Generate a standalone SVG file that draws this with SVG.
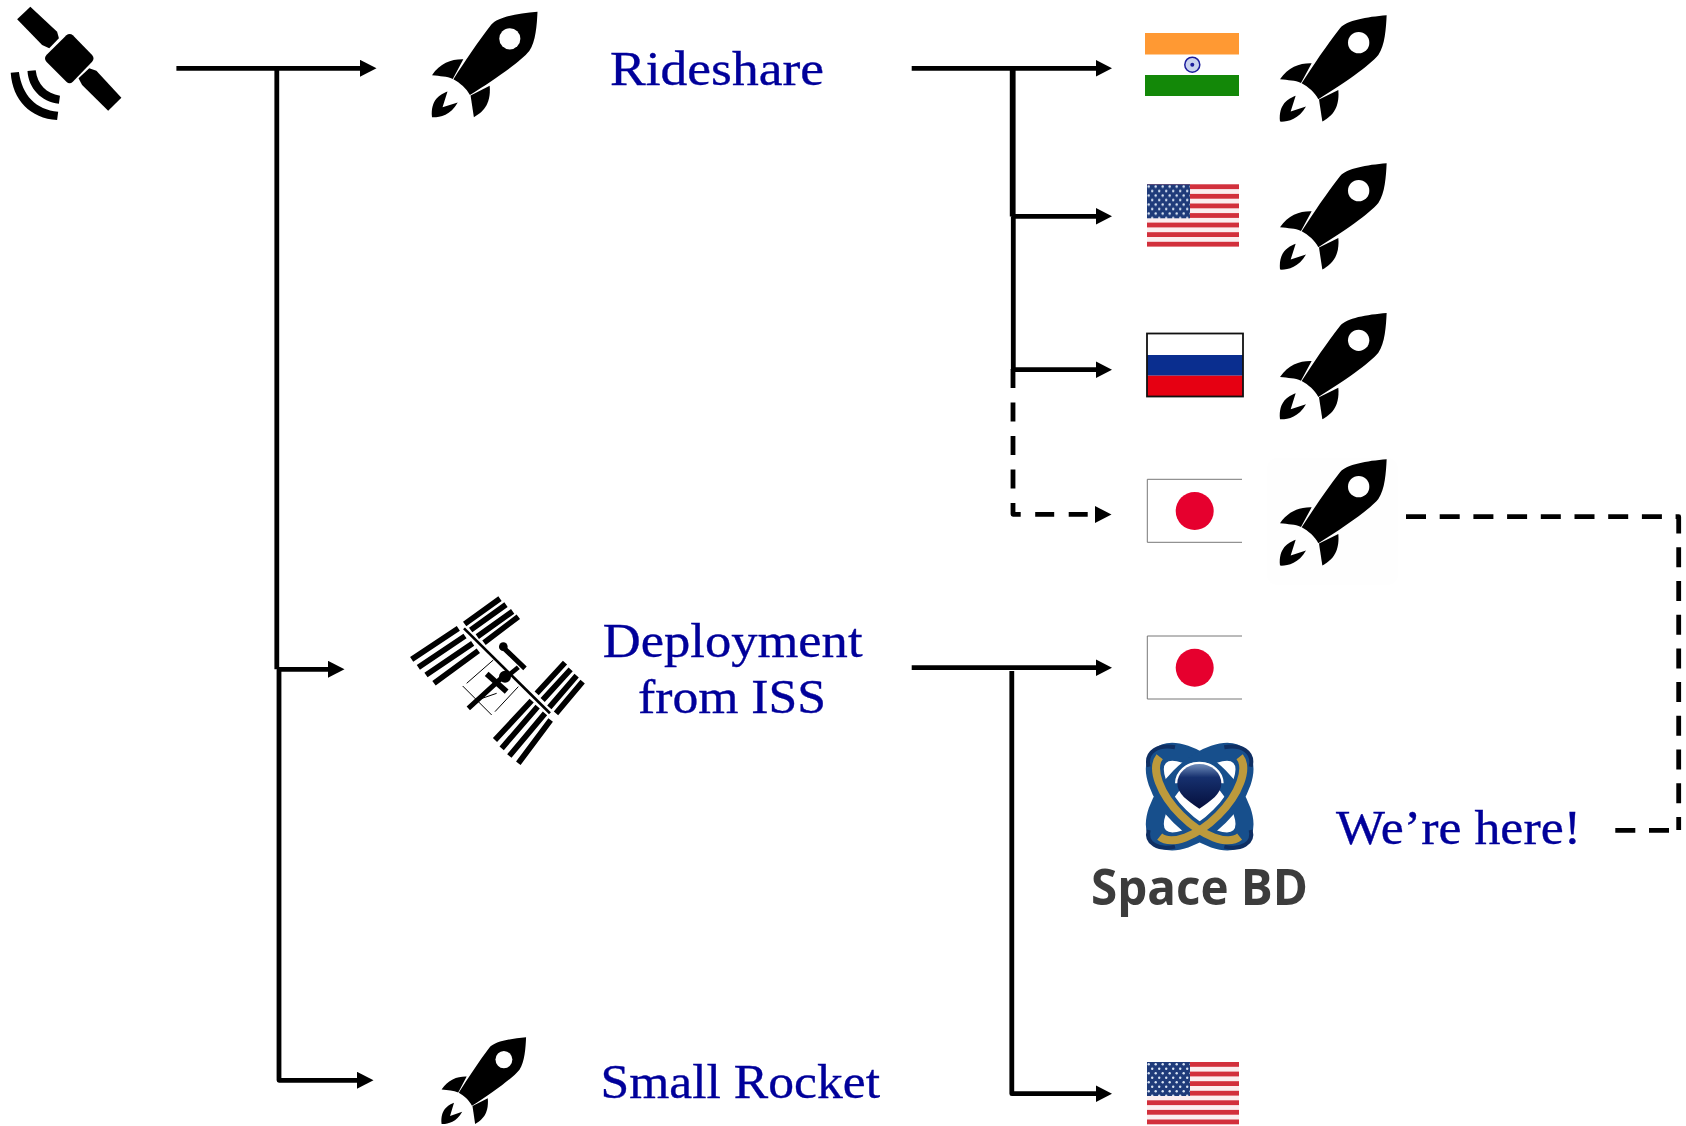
<svg xmlns="http://www.w3.org/2000/svg" xmlns:xlink="http://www.w3.org/1999/xlink" width="1686" height="1126" viewBox="0 0 1686 1126">
<style>
.lbl{font-family:"Liberation Serif","Times New Roman",serif;font-size:49px;fill:#00009a;stroke:#00009a;stroke-width:.35}
.ln{fill:none;stroke:#000;stroke-width:4.8;stroke-linejoin:round}
.dash{stroke-dasharray:19 14.5}
.dash2{stroke-dasharray:20 13.7}
.bar{stroke:#000;stroke-width:17;fill:none}
.thin{stroke:#000;stroke-width:3;fill:none}
.mod{stroke:#000;stroke-width:15;fill:none}
</style>
<defs>
<marker id="ah" markerUnits="userSpaceOnUse" markerWidth="17" markerHeight="17" refX="1" refY="8.5" orient="auto"><path d="M0 0L16.5 8.5L0 17Z" fill="#000"/></marker>
<g id="rocket">
<path d="M320 0C318 40 315 90 295 119C270 150 190 205 115 252C105 232 85 215 65 204C100 150 140 90 180 39C200 15 260 5 320 0Z"/>
<path d="M0 192C25 155 60 143 95 144L63 203C45 195 25 195 0 192Z"/>
<path d="M117 253L175 224C180 285 150 305 127 319Z"/>
<path d="M0 319C-5 265 25 250 47 241L32 289L78 274C55 315 20 320 0 319Z"/>
<circle cx="236" cy="82" r="32" fill="#fff"/>
</g>
<pattern id="stars" width="7" height="9" patternUnits="userSpaceOnUse"><rect width="7" height="9" fill="#1f3b7a"/><circle cx="1.7" cy="2.2" r="1.2" fill="#d8e4f4"/><circle cx="5.2" cy="6.7" r="1.2" fill="#d8e4f4"/></pattern>
<g id="us">
<rect width="92" height="62.3" fill="#fbeef0"/>
<g fill="#d2303c"><rect y="0" width="92" height="4.8"/><rect y="9.6" width="92" height="4.8"/><rect y="19.2" width="92" height="4.8"/><rect y="28.8" width="92" height="4.8"/><rect y="38.3" width="92" height="4.8"/><rect y="47.9" width="92" height="4.8"/><rect y="57.5" width="92" height="4.8"/></g>
<rect width="43" height="34" fill="url(#stars)"/>
</g>
<g id="jp">
<rect width="94.7" height="63" fill="#fff"/>
<path d="M94.7 0H0V63H94.7" fill="none" stroke="#777" stroke-width="1"/>
<circle cx="47.4" cy="31.7" r="19" fill="#e6002e"/>
</g>
<linearGradient id="sph" x1="0" y1="0" x2="0" y2="1"><stop offset="0" stop-color="#6f8dbb"/><stop offset=".3" stop-color="#16306e"/><stop offset="1" stop-color="#050f3c"/></linearGradient>
</defs>
<rect width="1686" height="1126" fill="#fff"/>

<g id="connectors">
<path class="ln" d="M176.4 68.3H361" marker-end="url(#ah)"/>
<path class="ln" d="M276.8 68.3V669.3"/>
<path class="ln" d="M277 669.3H329" marker-end="url(#ah)"/>
<path class="ln" d="M279 669.3V1080.3H358" marker-end="url(#ah)"/>
<path class="ln" d="M911.7 68.3H1096.5" marker-end="url(#ah)"/>
<path class="ln" style="stroke-width:5.8" d="M1012.7 68.3V216.5"/>
<path class="ln" d="M1012 216.3H1096.5" marker-end="url(#ah)"/>
<path class="ln" d="M1013.3 216.3V369.7"/>
<path class="ln" d="M1013 369.7H1096.5" marker-end="url(#ah)"/>
<path class="ln dash" d="M1013 369V514.3H1092"/>
<path d="M1095 506L1111.5 514.6L1095 523Z" fill="#000"/>
<path class="ln" d="M911.7 667.7H1096.5" marker-end="url(#ah)"/>
<path class="ln" d="M1011.8 671V1093.7H1096.5" marker-end="url(#ah)"/>
<path class="ln dash2" d="M1406 516.7H1678.7V830"/>
<path class="ln dash2" d="M1669 830.3H1615"/>
</g>

<g id="satellite" transform="scale(.357 .3333)">
<path d="M85 20L160 95L165 115L138 145L118 135L48 58Z"/>
<path d="M195 102Q200 102 204 106L258 165Q266 175 258 185L204 245Q195 254 186 245L130 185Q122 175 130 165L186 106Q190 102 195 102Z"/>
<path d="M250 205L270 212L340 293L303 332L230 255L220 235Z"/>
<path d="M30 218L53 216C62 285 100 330 163 335L160 360C85 355 35 300 30 218Z"/>
<path d="M77 213L100 211C105 255 130 280 168 287L165 311C115 305 80 265 77 213Z"/>
</g>
<g id="rocket-main"><use xlink:href="#rocket" href="#rocket" transform="translate(432 11.7) scale(.3297 .331)"/></g>
<text id="t-rideshare" class="lbl" x="610" y="85" textLength="214" lengthAdjust="spacingAndGlyphs">Rideshare</text>

<g id="flag-india">
<rect x="1145" y="33" width="94" height="63" fill="#fff"/>
<rect x="1145" y="33" width="94" height="21.5" fill="#ff9933"/>
<rect x="1145" y="75" width="94" height="21" fill="#138808"/>
<circle cx="1192.3" cy="64.7" r="7.5" fill="#c9d2ee" stroke="#1c1c9c" stroke-width="1.5"/>
<circle cx="1192.3" cy="64.7" r="2" fill="#1c1c9c"/>
</g>
<g id="rocket-india"><use xlink:href="#rocket" href="#rocket" transform="translate(1280 15.3) scale(.3333)"/></g>
<g id="flag-us-1"><use xlink:href="#us" href="#us" transform="translate(1147 184.3)"/></g>
<g id="rocket-us"><use xlink:href="#rocket" href="#rocket" transform="translate(1280 163.3) scale(.3333)"/></g>
<g id="flag-russia">
<rect x="1147" y="333.5" width="96" height="63" fill="#fff"/>
<rect x="1147" y="355" width="96" height="20.7" fill="#0a2e8f"/>
<rect x="1147" y="375.7" width="96" height="21" fill="#e60012"/>
<rect x="1147" y="333.5" width="96" height="63" fill="none" stroke="#111" stroke-width="1.8"/>
</g>
<g id="rocket-russia"><use xlink:href="#rocket" href="#rocket" transform="translate(1280 313) scale(.3333)"/></g>
<g id="flag-japan-1"><use xlink:href="#jp" href="#jp" transform="translate(1147.3 479.3)"/></g>
<g id="rocket-japan">
<rect x="1267" y="458" width="131" height="127" rx="10" fill="#fefefe"/>
<use xlink:href="#rocket" href="#rocket" transform="translate(1280 459.3) scale(.3333)"/>
</g>

<g id="iss" transform="translate(390 580) scale(.3333)">
<path class="bar" d="M224 132L330 56M242 150L348 74M262 170L368 94M282 188L385 110"/>
<path class="bar" d="M65 238L205 145M85 262L225 168M108 285L248 190M132 310L265 212"/>
<path class="bar" d="M440 340L525 248M458 360L542 268M478 382L560 287M498 400L578 305"/>
<path class="bar" d="M315 480L425 362M335 505L443 380M358 528L465 400M385 550L482 420"/>
<path d="M222 145L480 400" stroke="#000" stroke-width="8" fill="none"/>
<path class="mod" d="M333 196L405 265M235 385L350 280"/>
<path d="M290 282L350 335" stroke="#000" stroke-width="17" fill="none"/>
<path d="M385 262L345 295" stroke="#000" stroke-width="14" fill="none"/>
<path class="thin" d="M230 310L310 240M218 318L305 405M315 395L385 320M262 360L320 340"/>
<circle cx="345" cy="290" r="18"/>
<circle cx="340" cy="200" r="13"/>
</g>
<g id="t-iss">
<text class="lbl" x="602.8" y="656.5" textLength="259.7" lengthAdjust="spacingAndGlyphs">Deployment</text>
<text class="lbl" x="638" y="712.5" textLength="188" lengthAdjust="spacingAndGlyphs">from ISS</text>
</g>
<g id="flag-japan-2"><use xlink:href="#jp" href="#jp" transform="translate(1147.3 636)"/></g>

<g id="spacebd">
<g transform="translate(1070 730) scale(.3333)">
<g fill="none" stroke="#174f8c" stroke-width="54">
<ellipse cx="389" cy="200" rx="170" ry="84" transform="rotate(45 389 200)"/>
<ellipse cx="389" cy="200" rx="170" ry="84" transform="rotate(-45 389 200)"/>
</g>
<g fill="none" stroke="#0f2f63" stroke-width="12">
<path d="M236 110C225 65 265 42 315 52"/><path d="M542 110C553 65 513 42 463 52"/>
<path d="M236 300C225 340 265 362 315 350"/><path d="M542 300C553 340 513 362 463 350"/>
</g>
<g fill="none" stroke="#bd9a3c" stroke-width="24">
<path d="M269 80A170 84 45 0 0 509 320"/>
<path d="M509 80A170 84 -45 0 1 269 320"/>
</g>
<path d="M322 160A66 58 0 0 1 454 160" fill="none" stroke="#fff" stroke-width="14"/>
<path d="M388 236C352 212 322 192 322 160A66 58 0 0 1 454 160C454 192 424 212 388 236Z" fill="url(#sph)"/>
</g>
<text x="1091" y="905" textLength="217" lengthAdjust="spacingAndGlyphs" style="font-family:'Open Sans','Liberation Sans',sans-serif;font-weight:700;font-size:50px;fill:#3c3c3c">Space BD</text>
</g>
<text id="t-here" class="lbl" x="1336" y="844" textLength="245" lengthAdjust="spacingAndGlyphs">We’re here!</text>

<g id="rocket-small"><use xlink:href="#rocket" href="#rocket" transform="translate(441.6 1037.3) scale(.264 .272)"/></g>
<text id="t-small" class="lbl" x="600.5" y="1098" textLength="279.5" lengthAdjust="spacingAndGlyphs">Small Rocket</text>
<g id="flag-us-2"><use xlink:href="#us" href="#us" transform="translate(1147 1062)"/></g>
</svg>
